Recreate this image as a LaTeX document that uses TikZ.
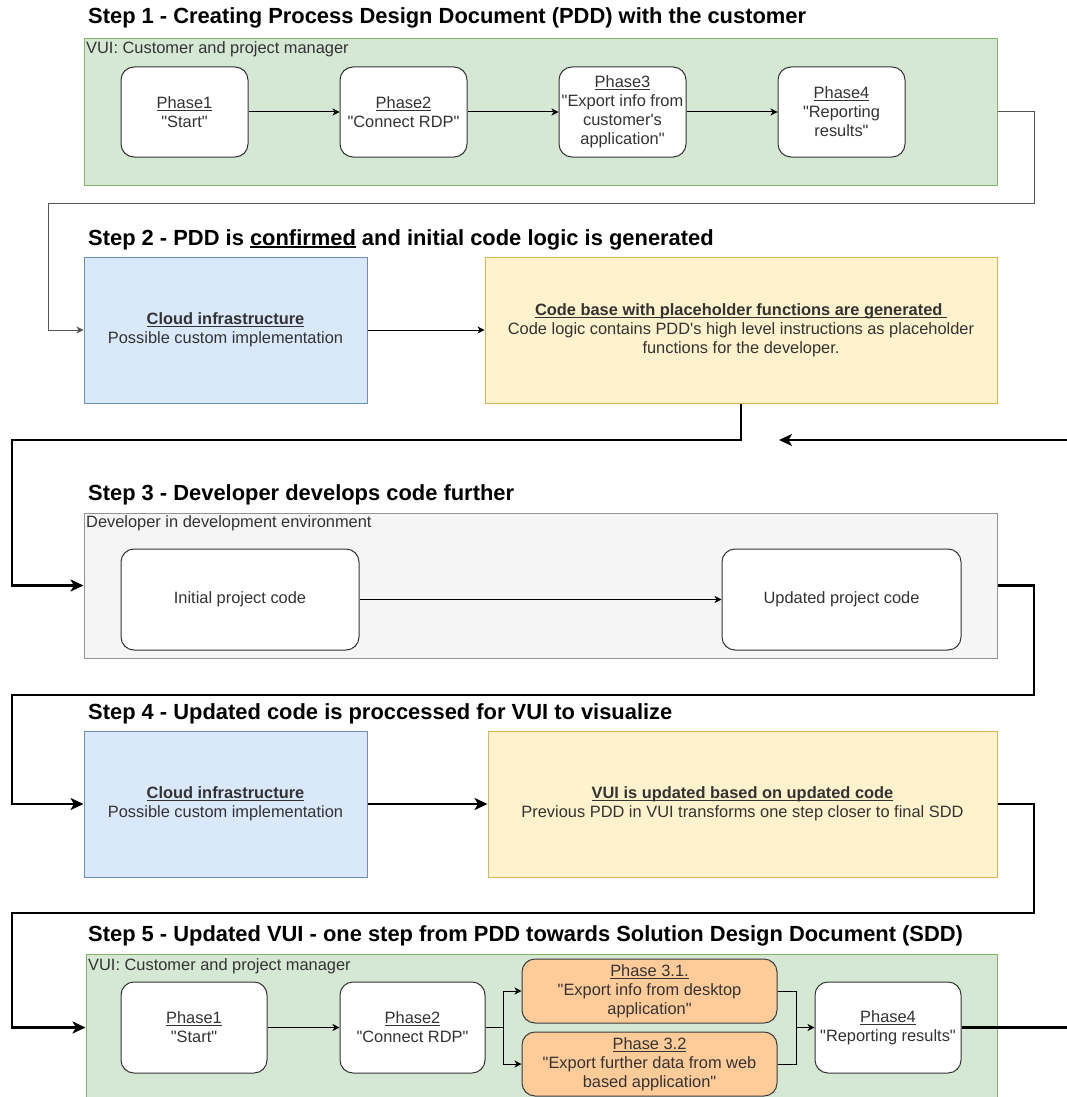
\documentclass[tikz,border=0pt]{standalone}
\usepackage{fontspec}
\setmainfont{Liberation Sans}[Ligatures=TeXOff]
\usetikzlibrary{arrows.meta}

\definecolor{grnfill}{HTML}{D5E8D4}
\definecolor{grnline}{HTML}{82B366}
\definecolor{bluefill}{HTML}{DAE8FC}
\definecolor{blueline}{HTML}{6C8EBF}
\definecolor{yelfill}{HTML}{FFF2CC}
\definecolor{yelline}{HTML}{D6B656}
\definecolor{grayfill}{HTML}{F5F5F5}
\definecolor{grayline}{HTML}{666666}
\definecolor{orfill}{HTML}{FFCC99}
\definecolor{orline}{HTML}{36393D}
\definecolor{txt}{HTML}{333333}
\definecolor{linkgray}{HTML}{555555}

\newcommand\bodysize{\fontsize{16.4}{19}\selectfont}
\newcommand\titlesize{\fontsize{21.9}{26}\selectfont\bfseries}
% underline sitting just below the baseline
\newcommand\undl[1]{\leavevmode\setbox0\hbox{#1}\rlap{\rule[-2.4pt]{\wd0}{1pt}}\box0\relax}
\newcommand\undlb[1]{\leavevmode\setbox0\hbox{#1}\rlap{\rule[-3pt]{\wd0}{1.6pt}}\box0\relax}

\begin{document}
\begin{tikzpicture}[x=1pt,y=-1pt,
  sz/.style 2 args={minimum width=#1pt, minimum height=#2pt},
  cont/.style={rectangle, draw, line width=1pt, inner sep=0pt},
  phase/.style={rectangle, rounded corners=13pt, draw=black!80, fill=white,
    line width=1pt, inner sep=2pt, align=center, text=txt, font=\bodysize},
  orphase/.style={phase, fill=orfill, draw=orline},
  block/.style={rectangle, line width=1pt, inner sep=2pt, align=center,
    text=txt, font=\bodysize},
  lbl/.style={inner sep=0pt, text=txt, font=\bodysize, anchor=base west},
  ttl/.style={inner sep=0pt, font=\titlesize, anchor=base west},
  thin/.style={line width=1pt, -{Stealth[length=7pt,width=7pt,inset=2pt]}},
  thinline/.style={line width=1pt},
  thick/.style={line width=2.7pt, -{Stealth[length=13pt,width=12pt,inset=3.5pt]}},
  thickline/.style={line width=2.7pt},
]
\useasboundingbox (0,0) rectangle (1067,1097);

% ---------- Step 1 ----------
\node[ttl] (t1) at (88,24) {Step 1 - Creating Process Design Document (PDD) with the customer};
\node[cont, fill=grnfill, draw=grnline, sz={913}{146}] (g1) at (540.5,112) {};
\node[lbl] (g1l) at (86,53.5) {VUI: Customer and project manager};
\node[phase, sz={127}{90}] (p11) at (184.5,112) {\undl{Phase1}\\"Start"};
\node[phase, sz={127}{90}] (p12) at (403.5,112) {\undl{Phase2}\\"Connect RDP"};
\node[phase, sz={127}{90}] (p13) at (622.5,112) {\undl{Phase3}\\"Export info from\\customer's\\application"};
\node[phase, sz={127}{90}] (p14) at (841.5,112) {\undl{Phase4}\\"Reporting\\results"};
\draw[thin] (p11) -- (p12);
\draw[thin] (p12) -- (p13);
\draw[thin] (p13) -- (p14);

% ---------- Step 2 ----------
\node[ttl] (t2) at (88,245) {Step 2 - PDD is \undlb{confirmed} and initial code logic is generated};
\node[block, fill=bluefill, draw=blueline, sz={283}{146}] (b1) at (225.5,330)
  {{\bfseries\undl{Cloud infrastructure}}\\Possible custom implementation};
\node[block, fill=yelfill, draw=yelline, sz={512}{146}] (y1) at (741,330)
  {{\bfseries\undl{Code base with placeholder functions are generated\ }}\\
   Code logic contains PDD's high level instructions as placeholder\\
   functions for the developer.};
\coordinate (r1) at (1034,203);
\coordinate (l1) at (48,203);
\draw[thin, draw=linkgray] (g1.east) -| (r1) -- (l1) |- (b1.west);
\draw[thin] (b1) -- (y1);

% ---------- Step 3 ----------
\node[ttl] (t3) at (88,500) {Step 3 - Developer develops code further};
\node[cont, fill=grayfill, draw=grayline!70, sz={913}{145}] (g3) at (540.5,585.5) {};
\node[lbl] (g3l) at (86,527.5) {Developer in development environment};
\node[phase, sz={238}{101}] (ipc) at (240,599.5) {Initial project code};
\node[phase, sz={239}{101}] (upc) at (841.5,599.5) {Updated project code};
\draw[thin] (ipc) -- (upc);
\coordinate (d2) at (741,440);
\coordinate (l2) at (12,440);
\draw[thick] (y1.south) -- (d2) -- (l2) |- (g3.west);
\coordinate (loopin) at (1070,440);
\coordinate (looptip) at (779,440);
\draw[thick] (loopin) -- (looptip);

% ---------- Step 4 ----------
\node[ttl] (t4) at (88,719) {Step 4 - Updated code is proccessed for VUI to visualize};
\node[block, fill=bluefill, draw=blueline, sz={283}{146}] (b2) at (225.5,804)
  {{\bfseries\undl{Cloud infrastructure}}\\Possible custom implementation};
\node[block, fill=yelfill, draw=yelline, sz={509}{146}] (y2) at (742.5,804)
  {{\bfseries\undl{VUI is updated based on updated code}}\\
   Previous PDD in VUI transforms one step closer to final SDD};
\coordinate (r3) at (1034,695);
\coordinate (l3) at (12,695);
\draw[thick] (g3.east) -| (r3) -- (l3) |- (b2.west);
\draw[thick] (b2) -- (y2);

% ---------- Step 5 ----------
\node[ttl] (t5) at (88,941) {Step 5 - Updated VUI - one step from PDD towards Solution Design Document (SDD)};
\node[cont, fill=grnfill, draw=grnline, sz={911}{150}] (g5) at (541.5,1029) {};
\node[lbl] (g5l) at (88,970) {VUI: Customer and project manager};
\node[phase, sz={146}{91}] (p51) at (194,1027.5) {\undl{Phase1}\\"Start"};
\node[phase, sz={145}{91}] (p52) at (412.5,1027.5) {\undl{Phase2}\\"Connect RDP"};
\node[orphase, sz={255}{64}] (p531) at (649.5,991) {\undl{Phase 3.1.}\\"Export info from desktop\\application"};
\node[orphase, sz={255}{64}] (p532) at (649.5,1064) {\undl{Phase 3.2}\\"Export further data from web\\based application"};
\node[phase, sz={146}{91}] (p54) at (888,1027.5) {\undl{Phase4}\\"Reporting results"};
\coordinate (r4) at (1034,913);
\coordinate (l4) at (12,913);
\draw[thick] (y2.east) -| (r4) -- (l4) |- (p51.west -| g5.west);
\draw[thin] (p51) -- (p52);
\coordinate (split) at (503,1027.5);
\coordinate (join) at (796,1027.5);
\draw[thinline] (p52.east) -- (split);
\draw[thin] (split) |- (p531.west);
\draw[thin] (split) |- (p532.west);
\draw[thinline] (p531.east) -| (join);
\draw[thinline] (p532.east) -| (join);
\draw[thin] (join) -- (p54.west);
\coordinate (out5) at (1070,1027.5);
\draw[thickline] (p54.east) -- (out5);
\end{tikzpicture}
\end{document}
